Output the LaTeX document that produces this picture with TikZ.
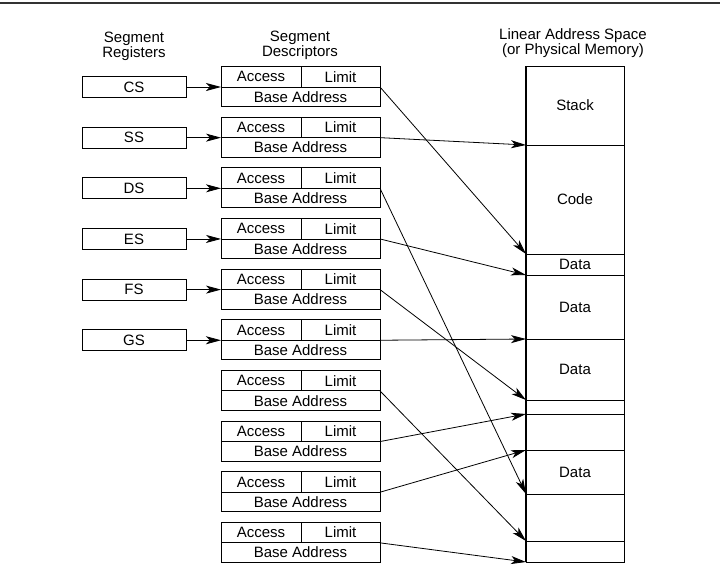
\documentclass[tikz,border=0pt]{standalone}
\usepackage{fontspec}
\setmainfont{Liberation Sans}
\usetikzlibrary{arrows.meta}
\begin{document}
\begin{tikzpicture}[x=1pt,y=-1pt,
  txt/.style={font=\fontsize{15}{15}\selectfont},
  cell/.style={draw,line width=0.9pt,inner sep=0pt,outer sep=0pt,txt},
  memcell/.style={draw,line width=1pt,inner sep=0pt,outer sep=0pt,minimum width=98pt,txt},
  hdr/.style={align=center,inner sep=0pt,font=\fontsize{15}{15}\selectfont},
  arr/.style={line width=0.8pt,-{Stealth[length=15pt,width=8pt,inset=4pt]}}]
\useasboundingbox (0,0) rectangle (720,573);
\draw[line width=1.4pt,black!80] (0,3) -- (720,3);
% headers
\node[hdr] (hreg) at (134,46.5) {Segment\\Registers};
\node[hdr] (hdesc) at (300,45.5) {Segment\\Descriptors};
\node[hdr] (hlin) at (573,43.5) {Linear Address Space\\(or Physical Memory)};
% descriptors
\foreach \i in {1,...,10}{
  \pgfmathsetmacro\t{66.5+50.65*(\i-1)}
  \node[cell,minimum width=80pt,minimum height=20.5pt] (acc\i) at (261,\t+10.25) {Access};
  \node[cell,minimum width=79pt,minimum height=20.5pt] (lim\i) at (340.5,\t+10.25) {Limit};
  \node[cell,minimum width=159pt,minimum height=19.5pt] (base\i) at (300.5,\t+30.25) {Base Address};
}
% registers
\foreach \i/\r in {1/CS,2/SS,3/DS,4/ES,5/FS,6/GS}{
  \pgfmathsetmacro\m{66.5+50.65*(\i-1)+20.5}
  \node[cell,minimum width=104pt,minimum height=21pt] (reg\i) at (134,\m) {\r};
  \draw[arr] (reg\i.east) -- (acc\i.south west);
}
% memory
\node[memcell,minimum height=79pt] (m1) at (575,105.5) {Stack};
\node[memcell,minimum height=109pt] (m2) at (575,199.5) {Code};
\node[memcell,minimum height=21pt] (m3) at (575,264.5) {Data};
\node[memcell,minimum height=64pt] (m4) at (575,307) {Data};
\node[memcell,minimum height=61pt] (m5) at (575,369.5) {Data};
\node[memcell,minimum height=14pt] (m6) at (575,407) {};
\node[memcell,minimum height=36pt] (m7) at (575,432) {};
\node[memcell,minimum height=44pt] (m8) at (575,472) {Data};
\node[memcell,minimum height=47pt] (m9) at (575,517.5) {};
\node[memcell,minimum height=21pt] (m10) at (575,551.5) {};
\draw[line width=1.5pt] (m1.north west) -- (m10.south west);
% connectors
\draw[arr] (lim1.south east) -- (m2.south west);
\draw[arr] (lim2.south east) -- (m1.south west);
\draw[arr] (lim3.south east) -- (m8.south west);
\draw[arr] (lim4.south east) -- (m3.south west);
\draw[arr] (lim5.south east) -- (m5.south west);
\draw[arr] (lim6.south east) -- (m4.south west);
\draw[arr] (lim7.south east) -- (m9.south west);
\draw[arr] (lim8.south east) -- (m6.south west);
\draw[arr] (lim9.south east) -- (m7.south west);
\draw[arr] (lim10.south east) -- (m10.south west);
\end{tikzpicture}
\end{document}
